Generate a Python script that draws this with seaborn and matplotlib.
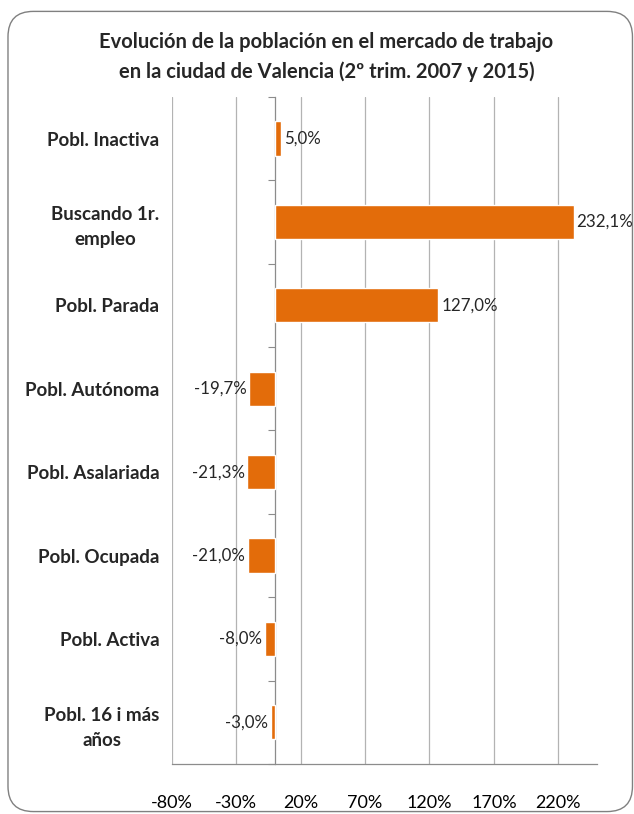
import matplotlib.pyplot as plt
import matplotlib as mpl
from matplotlib.patches import FancyBboxPatch
import seaborn as sns
import numpy as np
import pandas as pd

sns.set_style('white')
mpl.rcParams['font.family'] = ['Lato', 'DejaVu Sans']

# Data
categories = ['Pobl. Inactiva', 'Buscando 1r.\nempleo', 'Pobl. Parada',
              'Pobl. Autónoma', 'Pobl. Asalariada', 'Pobl. Ocupada',
              'Pobl. Activa', 'Pobl. 16 i más\naños']
values = [5.0, 232.1, 127.0, -19.7, -21.3, -21.0, -8.0, -3.0]
x_ticks = [-80, -30, 20, 70, 120, 170, 220]

df = pd.DataFrame({'cat': categories, 'val': values})
bar_color = '#E36C0A'
grid_color = '#b3b3b3'
axis_color = '#8c8c8c'

fig = plt.figure(figsize=(6.34, 8.14), dpi=100)
ax = fig.add_axes([0.271, 0.0614, 0.6705, 0.8196])

# Rounded chart frame
frame = FancyBboxPatch((0.0126, 0.003), 0.985, 0.983, boxstyle='round,pad=0,rounding_size=0.04',
                       transform=fig.transFigure, facecolor='white', edgecolor='#808080',
                       linewidth=1.0, zorder=-10, mutation_aspect=634/814)
fig.patches.append(frame)
ax.set_facecolor('none')

sns.barplot(data=df, x='val', y='cat', color=bar_color, width=0.41, saturation=1,
            ax=ax, zorder=3)

ax.set_xlim(-80, 250)
ax.set_ylim(len(categories) - 0.5, -0.5)
ax.set_xticks(x_ticks)
ax.set_xticklabels([f'{t}%' for t in x_ticks], fontsize=13, color='#000000')
ax.tick_params(axis='x', length=6, width=0.8, color=axis_color, pad=16)
ax.grid(axis='x', color=grid_color, linewidth=0.9, zorder=0)
ax.set_axisbelow(True)

ax.set_ylabel('')
ax.set_xlabel('')
ax.tick_params(axis='y', length=0, pad=9)
for lab in ax.get_yticklabels():
    lab.set_fontweight('bold')
    lab.set_fontsize(13.5)
    lab.set_multialignment('center')
    lab.set_linespacing(1.55)

for side in ['top', 'right', 'left']:
    ax.spines[side].set_visible(False)
ax.spines['bottom'].set_color(axis_color)
ax.spines['bottom'].set_linewidth(0.9)

# Vertical category axis crossing at zero
zero_pos = (0 - (-80)) / (250 - (-80))
sec = ax.secondary_yaxis(zero_pos)
sec.set_yticks(np.arange(len(categories) + 1) - 0.5)
sec.set_yticklabels([])
sec.tick_params(length=5, width=0.8, color=axis_color)
sec.spines['left'].set_color(axis_color)
sec.spines['left'].set_linewidth(0.9)

labels = [f'{v:.1f}%'.replace('.', ',') for v in values]
ax.bar_label(ax.containers[0], labels=labels, padding=2, fontsize=12.2)

fig.text(0.515, 0.930, 'Evolución de la población en el mercado de trabajo\nen la ciudad de Valencia (2º trim. 2007 y 2015)',
         ha='center', va='center', fontsize=14.5, fontweight='bold', linespacing=1.55)

fig.savefig('out.png', dpi=100)
